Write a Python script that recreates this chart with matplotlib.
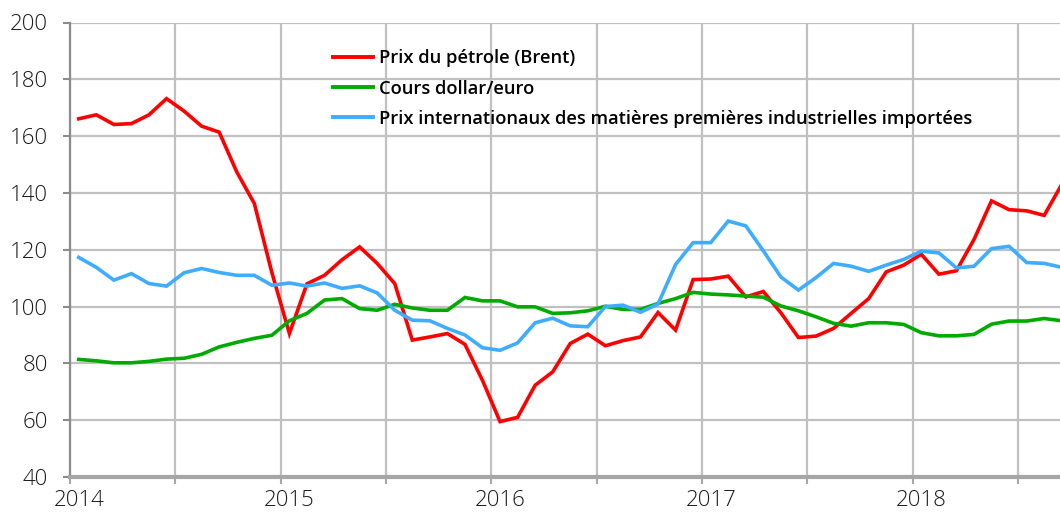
import matplotlib.pyplot as plt
import numpy as np

# monthly values, Jan 2014 -> Sep 2018 (index base)
brent = [166.1, 167.5, 164.1, 164.4, 167.5, 173.2, 168.8, 163.5, 161.4, 147.4,
         136.3, 112.0, 90.5, 108.0, 111.0, 116.5, 121.0, 115.2, 108.1, 88.2,
         89.3, 90.5, 86.7, 74.0, 59.5, 61.0, 72.3, 77.0, 87.0, 90.3,
         86.2, 88.0, 89.3, 97.9, 91.7, 109.5, 109.7, 110.7, 103.4, 105.3,
         97.8, 89.1, 89.6, 92.3, 97.6, 102.8, 112.2, 114.6, 118.4, 111.4,
         112.6, 123.6, 137.2, 134.1, 133.7, 132.1, 143.0]

dollar_euro = [81.4, 80.9, 80.2, 80.2, 80.7, 81.5, 81.8, 83.2, 85.8, 87.4,
               88.8, 89.9, 95.0, 97.6, 102.3, 102.8, 99.3, 98.7, 100.8, 99.5,
               98.7, 98.7, 103.2, 102.0, 102.0, 99.9, 99.9, 97.6, 97.8, 98.5,
               100.1, 99.0, 99.0, 101.1, 102.8, 105.0, 104.4, 104.1, 103.7, 103.3,
               100.2, 98.5, 96.4, 94.1, 93.1, 94.3, 94.3, 93.7, 90.8, 89.7,
               89.7, 90.2, 93.8, 94.9, 94.9, 95.8, 95.0]

matieres = [117.3, 113.8, 109.3, 111.6, 108.1, 107.2, 111.9, 113.4, 112.0, 111.0,
            111.0, 107.5, 108.3, 107.2, 108.3, 106.4, 107.3, 104.8, 98.7, 95.2,
            95.0, 92.3, 90.0, 85.5, 84.6, 87.2, 94.3, 95.9, 93.2, 92.9,
            100.0, 100.5, 98.0, 100.9, 114.8, 122.5, 122.5, 130.1, 128.4, 119.6,
            110.4, 105.8, 110.2, 115.2, 114.2, 112.4, 114.6, 116.6, 119.5, 118.9,
            113.6, 114.2, 120.4, 121.2, 115.5, 115.2, 113.8]

years = ["2014", "2015", "2016", "2017", "2018"]

labels = [
    "Prix du pétrole (Brent)",
    "Cours dollar/euro",
    "Prix internationaux des matières premières industrielles importées",
]
colors = ["#ff0000", "#00aa00", "#3fadff"]

plt.rcParams["font.family"] = ["Open Sans", "DejaVu Sans"]

fig = plt.figure(figsize=(10.6, 5.15), dpi=100)
ax = fig.add_axes([70 / 1060, 1 - 477 / 515, 1 - 70 / 1060, (477 - 22.5) / 515])

# points sit in the middle of each month
x = np.arange(len(brent)) + 0.5

for series, lab, col in zip([brent, dollar_euro, matieres], labels, colors):
    ax.plot(x, series, color=col, linewidth=2.6, label=lab,
            solid_joinstyle="miter")

ax.set_ylim(40, 200)
ax.set_yticks(np.arange(40, 201, 20))
ax.set_xlim(0, 56.4)

# grid every six months, year labels centred on January
ax.set_xticks(np.arange(0, 57, 6))
ax.set_xticklabels([])
ax.set_xticks(np.arange(len(years)) * 12 + 0.5, minor=True)
ax.set_xticklabels(years, minor=True)

ax.grid(True, which="major", color="#c0c0c0", linewidth=1.6)
ax.set_axisbelow(True)

ax.tick_params(axis="x", which="major", length=5, width=1.5, color="#a6a6a6", direction="out")
ax.tick_params(axis="x", which="minor", length=0, pad=9, labelsize=16, labelcolor="#1a1a1a")
ax.tick_params(axis="y", length=5, width=1.5, color="#8c8c8c", pad=11,
               labelsize=16, labelcolor="#1a1a1a")
for t in ax.get_xticklabels(minor=True) + ax.get_yticklabels():
    t.set_fontweight("light")

for side in ["top", "right"]:
    ax.spines[side].set_visible(False)
ax.spines["left"].set_color("#8c8c8c")
ax.spines["left"].set_linewidth(1.6)
ax.spines["bottom"].set_color("#a6a6a6")
ax.spines["bottom"].set_linewidth(3)

leg = ax.legend(loc="upper left", bbox_to_anchor=((333 - 70) / 990, 1 - 27 / 455),
                frameon=False, handlelength=2.2, handletextpad=0.3,
                labelspacing=0.66, borderaxespad=0, borderpad=0,
                prop={"size": 13.2, "weight": "semibold"})
for line in leg.get_lines():
    line.set_linewidth(2.8)

fig.savefig("out.png", dpi=100)
